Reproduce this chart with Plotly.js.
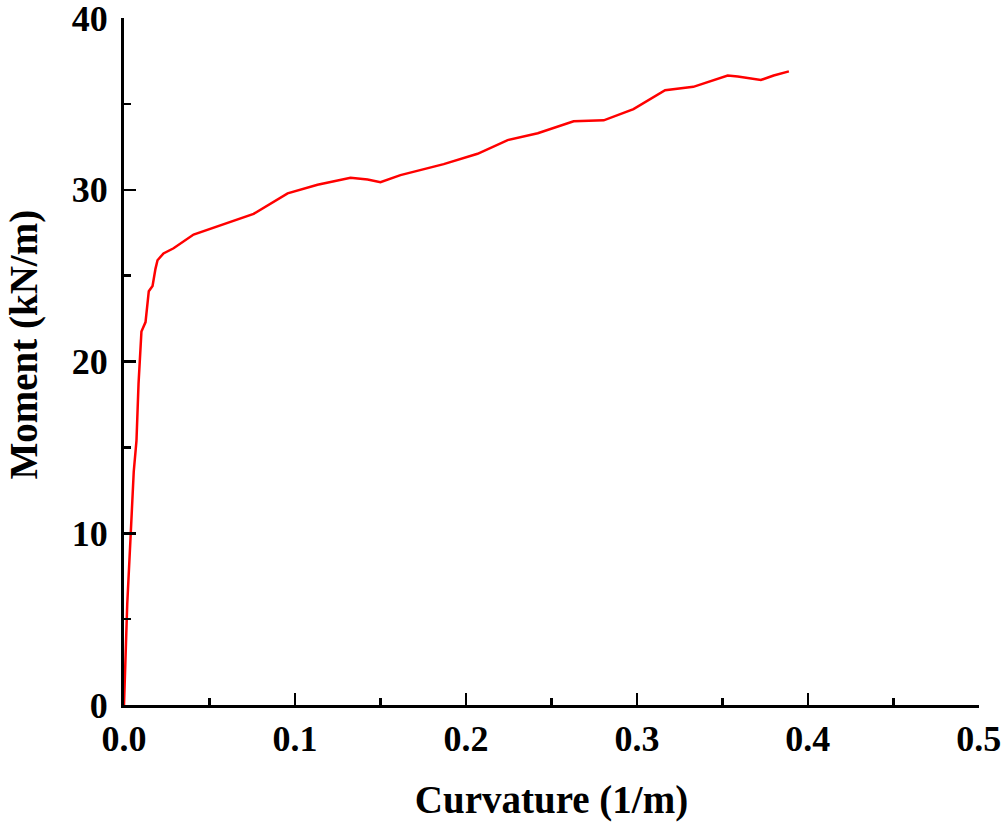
<!DOCTYPE html>
<html>
<head>
<meta charset="utf-8">
<script src="https://cdn.plot.ly/plotly-3.0.1.min.js"></script>
<style>
  html, body { margin: 0; padding: 0; background: #fff; }
  #chart { width: 1004px; height: 826px; }
</style>
</head>
<body>
<div id="chart"></div>
<script>
// moment–curvature curve, values
const curvature = [0, 0.0019, 0.0038, 0.0057, 0.0073, 0.0085, 0.0102, 0.0126, 0.0145, 0.0167,
  0.0184, 0.0196, 0.0231, 0.029, 0.0407, 0.0758, 0.0957, 0.1132, 0.1325, 0.1425,
  0.15, 0.1617, 0.187, 0.2068, 0.2244, 0.242, 0.263, 0.2806, 0.298, 0.3165,
  0.333, 0.3531, 0.359, 0.3725, 0.38, 0.3889];
const moment = [0, 5.9, 9.7, 13.6, 15.4, 18.7, 21.75, 22.3, 24.1, 24.4,
  25.4, 25.9, 26.3, 26.6, 27.4, 28.6, 29.8, 30.3, 30.7, 30.6,
  30.45, 30.86, 31.5, 32.1, 32.9, 33.3, 34.0, 34.05, 34.7, 35.8,
  36.0, 36.66, 36.6, 36.4, 36.66, 36.9];
const momentTicks = [0, 10, 20, 30, 40];

const FONT = 'Liberation Serif, Times New Roman, serif';

const axisBase = {
  showgrid: false,
  zeroline: false,
  showline: true,
  linecolor: '#000',
  linewidth: 3,
  ticks: 'inside',
  ticklen: 12,
  tickwidth: 2.5,
  tickcolor: '#000',
  ticklabeloverflow: 'allow',
  tickfont: { family: FONT, size: 36, color: '#000', weight: 'bold' },
  mirror: false
};

Plotly.newPlot('chart', [{
  x: curvature, y: moment,
  type: 'scatter', mode: 'lines',
  line: { color: '#ff0000', width: 2.5 },
  showlegend: false,
  cliponaxis: false
}], {
  width: 1004, height: 826,
  margin: { l: 123.5, r: 25.4, t: 18, b: 121 },
  paper_bgcolor: '#fff', plot_bgcolor: '#fff',
  xaxis: {
    ...axisBase,
    range: [0, 0.5001],
    tick0: 0,
    dtick: 0.1,
    tickformat: '.1f',
    minor: { ticks: 'inside', ticklen: 7, tickwidth: 2.5, tickcolor: '#000', dtick: 0.05, showgrid: false },
    title: { text: 'Curvature (1/m)', font: { family: FONT, size: 39, color: '#000', weight: 'bold' }, standoff: 28 }
  },
  yaxis: {
    ...axisBase,
    range: [0, 40.01],
    tickmode: 'array',
    tickvals: momentTicks,
    ticktext: momentTicks.map(String),
    ticklabelstandoff: 6,
    minor: { ticks: 'inside', ticklen: 7, tickwidth: 2.5, tickcolor: '#000', dtick: 5, tick0: 0, showgrid: false }
  },
  annotations: [{
    text: 'Moment (kN/m)',
    textangle: -90,
    xref: 'paper', yref: 'paper',
    x: 0, y: 0.524,
    xanchor: 'center', yanchor: 'middle',
    xshift: -99.5,
    showarrow: false,
    font: { family: FONT, size: 39, color: '#000', weight: 'bold' }
  }]
}, { displayModeBar: false, staticPlot: true });
</script>
</body>
</html>
